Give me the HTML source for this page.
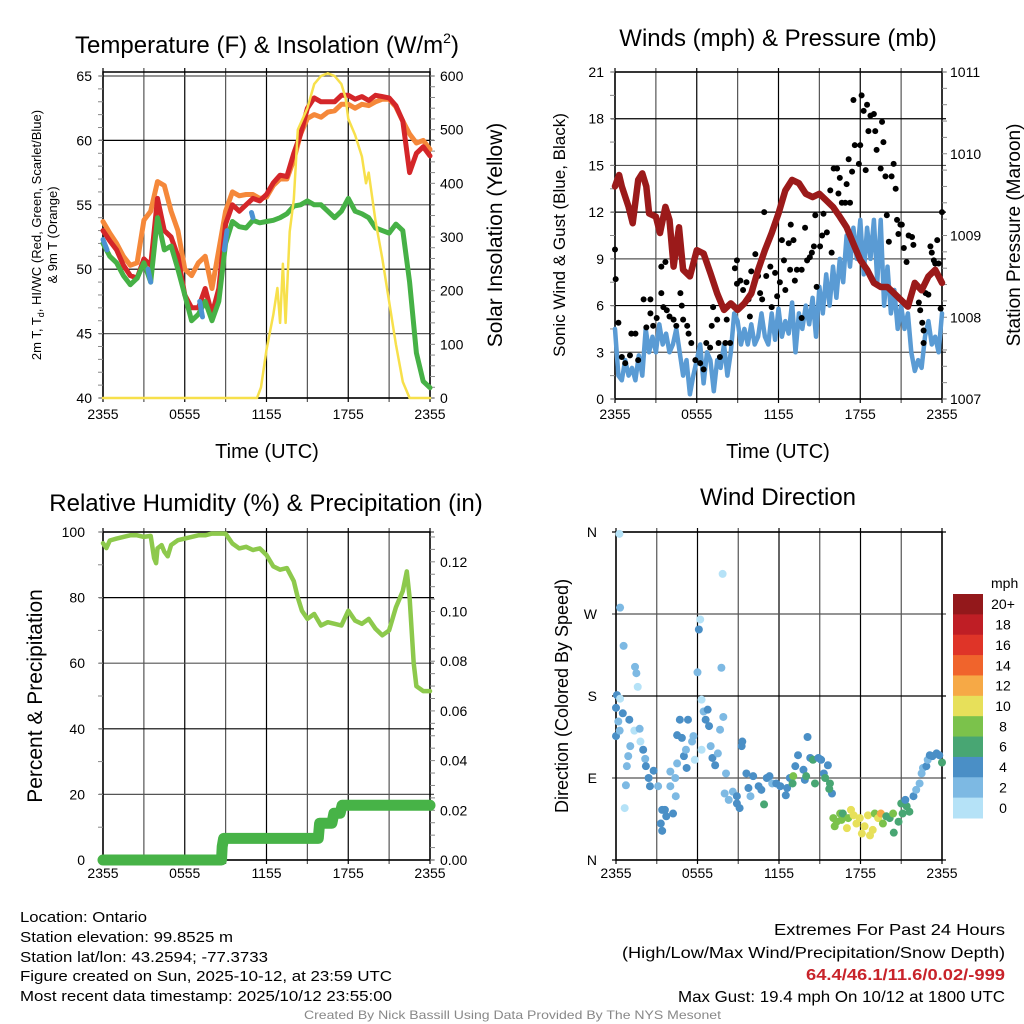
<!DOCTYPE html>
<html><head><meta charset="utf-8"><style>
html,body{margin:0;padding:0;background:#fff;}
svg{display:block;font-family:"Liberation Sans",sans-serif;}
</style></head><body>
<svg id="fig" width="1024" height="1024" viewBox="0 0 1024 1024" xmlns="http://www.w3.org/2000/svg">
<rect x="0" y="0" width="1024" height="1024" fill="#fff"/>
<text x="267" y="53" font-size="24" text-anchor="middle">Temperature (F) &amp; Insolation (W/m<tspan font-size="14" dy="-10">2</tspan><tspan dy="10">)</tspan></text>
<text x="778" y="46" font-size="24" text-anchor="middle">Winds (mph) &amp; Pressure (mb)</text>
<text x="266" y="511" font-size="24" text-anchor="middle">Relative Humidity (%) &amp; Precipitation (in)</text>
<text x="778" y="505" font-size="24" text-anchor="middle">Wind Direction</text>
<text x="267" y="458" font-size="20" text-anchor="middle">Time (UTC)</text>
<text x="778" y="458" font-size="20" text-anchor="middle">Time (UTC)</text>
<text transform="translate(41,235) rotate(-90)" font-size="13" text-anchor="middle">2m T, T<tspan font-size="9" dy="3">d</tspan><tspan dy="-3">, HI/WC (Red, Green, Scarlet/Blue)</tspan></text>
<text transform="translate(57,235) rotate(-90)" font-size="13" text-anchor="middle">&amp; 9m T (Orange)</text>
<text transform="translate(502,235) rotate(-90)" font-size="21" text-anchor="middle">Solar Insolation (Yellow)</text>
<text transform="translate(565,235) rotate(-90)" font-size="17" text-anchor="middle">Sonic Wind &amp; Gust (Blue, Black)</text>
<text transform="translate(1020,235) rotate(-90)" font-size="19" text-anchor="middle">Station Pressure (Maroon)</text>
<text transform="translate(42,696) rotate(-90)" font-size="21" text-anchor="middle">Percent &amp; Precipitation</text>
<text transform="translate(568,696) rotate(-90)" font-size="18" text-anchor="middle">Direction (Colored By Speed)</text>
<g font-size="15" lengthAdjust="spacingAndGlyphs">
<text x="20" y="922" textLength="127" lengthAdjust="spacingAndGlyphs">Location: Ontario</text>
<text x="20" y="942" textLength="213" lengthAdjust="spacingAndGlyphs">Station elevation: 99.8525 m</text>
<text x="20" y="962" textLength="248" lengthAdjust="spacingAndGlyphs">Station lat/lon: 43.2594; -77.3733</text>
<text x="20" y="981" textLength="372" lengthAdjust="spacingAndGlyphs">Figure created on Sun, 2025-10-12, at 23:59 UTC</text>
<text x="20" y="1001" textLength="372" lengthAdjust="spacingAndGlyphs">Most recent data timestamp: 2025/10/12 23:55:00</text>
</g>
<g font-size="16">
<text x="774" y="935" textLength="231" lengthAdjust="spacingAndGlyphs">Extremes For Past 24 Hours</text>
<text x="622" y="958" textLength="383" lengthAdjust="spacingAndGlyphs">(High/Low/Max Wind/Precipitation/Snow Depth)</text>
<text x="806" y="980" fill="#c8232a" font-weight="bold" textLength="199" lengthAdjust="spacingAndGlyphs">64.4/46.1/11.6/0.02/-999</text>
<text x="678" y="1002" textLength="327" lengthAdjust="spacingAndGlyphs">Max Gust: 19.4 mph On 10/12 at 1800 UTC</text>
</g>
<text x="304" y="1019" font-size="12" fill="#888" textLength="417" lengthAdjust="spacingAndGlyphs">Created By Nick Bassill Using Data Provided By The NYS Mesonet</text>
</svg>
<script>
// ---------- data ----------
const timeTicks = ["2355","0555","1155","1755","2355"];
const tempTickLabels = [40,45,50,55,60,65];
const solarTickLabels = [0,100,200,300,400,500,600];
const windTickLabels = [0,3,6,9,12,15,18,21];
const pressTickLabels = [1007,1008,1009,1010,1011];
const rhTickLabels = [0,20,40,60,80,100];
const precipTickLabels = ["0.00","0.02","0.04","0.06","0.08","0.10","0.12"];
const dirTickLabels = ["N","E","S","W","N"];
const speedBins = ["0","2","4","6","8","10","12","14","16","18","20+"];
const speedColors = ["#b5e2f7","#7db9e3","#4a8fc6","#48a673","#7bc24b","#e7e05a","#f6a946","#f0642c","#df3428","#bf1e25","#93181b"];

const halfHours = [0,0.5,1,1.5,2,2.5,3,3.5,4,4.5,5,5.5,6,6.5,7,7.5,8,8.5,9,9.5,10,10.5,11,11.5,12,12.5,13,13.5,14,14.5,15,15.5,16,16.5,17,17.5,18,18.5,19,19.5,20,20.5,21,21.5,22,22.5,23,23.5,24];
const temp2m = [53,52.2,51.5,50.3,49.5,49.3,50.8,50.3,55.5,53,52.5,51,48,47,47,48.5,46.5,48.5,53.5,55,54.5,55,55.5,55.3,55.8,56.7,57.3,57.2,59,60.5,62.5,63.3,63,63,63,63.5,63.5,63.2,63.4,63.1,63.5,63.4,63.3,62.7,61.5,57.5,59,59.5,58.8];
const temp9m = [53.7,52.8,52,51,50.3,50.5,53.8,54.5,56.8,56.5,54.5,53,50,49.5,50.5,51,48.5,51.5,54.5,56,55.7,55.8,55.8,55.5,55.6,56.5,57,57,58.5,60.5,61.7,62,61.8,62.2,62.3,62.8,62.8,62.5,62.8,62.7,63,63.2,63.2,62.6,61.5,60.5,59.8,60,59.3];
const dewpoint = [52,51,50.5,49.5,48.8,49.3,50.5,49,54,51.5,51.8,50,48,46,46.5,47.5,46,47.5,52,53.7,53.3,53.2,53.8,53.6,53.7,53.8,54,54.3,54.9,55,55.3,55,55,54.5,54,54.5,55.5,54.5,54.3,54,53.2,53,52.8,53.5,53,49,43.5,41.3,40.8];
const hiwcHours = [0,0.3,3.3,3.5,7.1,7.3,8.9,9.1,10.9,11.0];
const hiwcValues = [52.3,51.5,50,49,47.5,46.3,51.5,53,54.4,54];
const solarHours = [0,11.3,11.6,12,12.5,12.8,13,13.2,13.4,13.7,14,14.3,15,15.5,16,16.5,17,17.5,17.8,18,18.5,19,19.3,19.5,20,20.5,21,21.5,22,22.5,24];
const solarValues = [0,0,20,90,155,205,140,250,140,310,370,500,540,585,600,605,600,585,560,520,490,450,400,420,330,260,180,100,30,0,0];

const windHours = [0,0.25,0.5,0.75,1,1.25,1.5,1.75,2,2.25,2.5,2.75,3,3.25,3.5,3.75,4,4.25,4.5,4.75,5,5.25,5.5,5.75,6,6.25,6.5,6.75,7,7.25,7.5,7.75,8,8.25,8.5,8.75,9,9.25,9.5,9.75,10,10.25,10.5,10.75,11,11.25,11.5,11.75,12,12.25,12.5,12.75,13,13.25,13.5,13.75,14,14.25,14.5,14.75,15,15.25,15.5,15.75,16,16.25,16.5,16.75,17,17.25,17.5,17.75,18,18.25,18.5,18.75,19,19.25,19.5,19.75,20,20.25,20.5,20.75,21,21.25,21.5,21.75,22,22.25,22.5,22.75,23,23.25,23.5,23.75,24];
const windSpeed = [4.5,1.5,1.2,2.5,1.5,2.0,1.2,2.8,1.5,4.5,3.0,4.0,3.0,4.8,3.5,4.2,3.0,3.5,4.5,3.0,1.5,2.5,0.3,1.5,2.5,3.5,1.0,3.0,2.5,0.5,2.5,2.0,3.5,1.5,3.0,5.5,5.0,3.5,4.5,3.5,4.8,3.5,4.0,5.5,4.0,3.5,5.5,3.8,5.8,4.0,5.0,4.2,6.2,3.0,5.5,4.5,6.0,4.8,6.5,4.0,7.2,5.5,8.0,6.0,8.5,6.5,9.0,7.5,10.5,8.5,11.0,9.0,11.5,8.0,11.0,9.0,11.5,7.5,11.5,6.0,8.5,5.5,7.0,4.5,6.0,4.5,5.5,3.0,1.8,2.5,2.0,4.0,5.0,3.5,4.0,3.0,5.5];
const gustHours = [0,0.05,0.25,0.5,0.75,1.1,1.2,1.5,1.7,2.1,2.3,2.6,2.6,2.8,3.06,3.4,3.7,3.4,3.55,3.8,4.0,4.3,4.5,4.8,4.9,5.0,5.3,5.4,5.6,5.9,6.25,6.5,6.7,6.98,7.1,7.2,7.5,7.6,7.7,8.1,8.2,8.45,8.8,8.95,8.95,9.2,9.4,9.65,9.8,9.9,10.0,10.3,10.5,10.65,10.8,10.95,11.1,11.4,11.5,11.75,11.9,12.1,12.25,12.4,12.5,12.75,12.85,12.9,13.1,13.2,13.35,13.7,13.7,13.95,14.1,14.3,14.45,14.6,14.7,14.8,15.05,15.2,15.3,15.55,15.8,15.9,16.05,16.3,16.4,16.5,16.65,16.9,17.0,17.15,17.25,17.4,17.5,17.6,17.9,18.0,18.1,18.25,18.4,18.5,18.6,18.75,19.0,19.1,19.2,19.5,19.6,19.7,19.85,19.95,20.1,20.3,20.45,20.6,20.7,20.8,20.95,21.05,21.2,21.4,21.55,21.8,21.9,22.05,22.3,22.4,22.55,22.65,22.65,22.8,23.0,23.15,23.25,23.4,23.5,23.65,23.75,23.9,24.0];
const gustSpeed = [9.6,7.7,4.9,2.7,2.3,2.8,4.2,4.2,2.5,6.4,4.6,5.5,6.4,4.7,5.2,8.5,8.8,6.8,5.9,5.7,5.3,5.1,4.7,6.8,6.0,5.1,4.7,4.2,3.6,2.5,2.3,1.9,3.6,3.3,4.7,5.9,5.1,3.6,2.7,3.6,5.1,3.6,8.4,8.9,7.4,7.6,7.0,7.5,6.4,5.3,8.2,9.3,7.9,6.8,6.4,12.0,7.9,8.5,5.9,8.1,6.6,7.5,10.2,8.9,7.0,10.0,8.3,11.2,10.2,7.6,8.3,5.2,8.3,11.0,8.9,9.1,9.4,9.8,11.8,7.2,9.8,10.5,11.9,10.7,13.4,9.4,14.8,14.8,13.2,14.2,12.6,12.6,13.8,15.4,12.6,14.6,19.2,16.3,15.1,16.3,19.5,18.5,14.7,18.9,17.2,18.2,18.3,17.2,16.0,14.8,17.8,16.5,14.3,11.8,10.1,14.3,15.1,13.5,11.5,10.6,11.2,11.2,9.7,8.8,10.5,10.4,9.9,7.4,6.2,5.7,4.9,4.4,3.6,6.8,6.7,9.8,9.4,8.9,8.7,10.2,8.7,5.8,12.0];
const pressHours = [0,0.3,0.5,1,1.3,1.7,2,2.3,2.5,3,3.3,3.7,4,4.3,4.7,5,5.5,6,6.5,7,7.5,8,8.5,9,9.5,10,10.5,11,11.5,12,12.5,13,13.5,14,14.5,15,15.5,16,16.5,17,17.5,18,18.5,19,19.5,20,20.5,21,21.5,22,22.5,23,23.5,24];
const pressure = [1009.6,1009.74,1009.6,1009.35,1009.15,1009.68,1009.76,1009.6,1009.27,1009.23,1009.03,1009.35,1009.19,1008.62,1009.1,1008.58,1008.5,1008.82,1008.78,1008.54,1008.29,1008.09,1008.17,1008.09,1008.17,1008.29,1008.58,1008.82,1009.03,1009.27,1009.55,1009.68,1009.64,1009.51,1009.47,1009.51,1009.43,1009.35,1009.23,1009.1,1008.9,1008.7,1008.58,1008.42,1008.37,1008.37,1008.29,1008.21,1008.13,1008.42,1008.33,1008.5,1008.58,1008.42];

const rhHours = [0,0.25,0.5,1,1.5,2,2.5,3,3.5,3.75,3.9,4,4.3,4.5,4.75,5,5.5,6,6.5,7,7.5,8,8.5,9,9.5,10,10.5,11,11.5,12,12.5,13,13.5,14,14.3,14.6,15,15.5,16,16.5,17,17.5,18,18.5,19,19.5,20,20.5,21,21.5,22,22.3,22.5,22.8,23,23.5,24];
const rhValues = [96.6,95.1,97.4,98,98.5,99,99,98.5,98.8,92,90.5,95,96,94,92.6,96,97.5,98,98.5,99,99,99.5,99.5,99.5,96.5,95,95.5,94.5,95,93,89.5,88.5,89,85,80,76,73.5,75,71.5,72.5,72,71.5,76,73,72,73.5,70.5,68.5,70,77,82,88,80,60,53,51.5,51.5];
const precipHours = [0,8.7,8.75,8.85,15.8,15.9,16.8,16.95,17.4,17.55,24];
const precipValues = [0,0,0.0054,0.0087,0.0087,0.0148,0.0148,0.0188,0.0188,0.022,0.022];

const dirHours = [0.25,0.3,0.56,1.4,1.5,1.6,0.07,0,0,0.17,0.3,0.5,0.27,0.98,1.35,1.74,1.8,1.05,0.9,0.8,0.73,0.64,2.0,2.15,2.2,2.77,2.4,2.5,3.1,3.4,3.6,3.3,3.4,3.7,4.2,4.0,4.0,4.36,4.4,4.5,4.5,4.7,4.85,5.0,5.2,5.15,5.3,5.6,5.7,5.8,6.0,6.1,6.2,6.3,6.45,6.6,6.75,6.85,6.3,6.97,7.1,7.3,7.5,7.85,7.76,7.9,7.66,8.1,8.0,8.3,8.6,8.9,8.9,9.1,9.25,9.3,9.6,9.75,9.9,10.1,10.5,10.7,10.9,11.1,11.3,11.5,11.8,12.1,12.5,12.6,12.8,13.05,13.0,13.2,13.4,13.8,13.9,14.0,14.1,14.3,14.5,14.65,14.9,15.1,15.3,15.4,15.6,15.75,15.9,15.7,16.0,16.1,16.25,16.5,16.6,16.7,17.0,17.1,17.3,17.5,17.7,17.95,18.1,18.3,18.55,18.7,18.9,19.05,19.3,19.5,19.65,19.9,20.15,20.45,20.4,20.8,21.0,21.1,21.4,21.6,21.3,21.9,22.1,22.35,22.5,22.6,22.85,22.95,23.1,23.3,23.6,23.8,24.0];
const dirDegrees = [358,277,235,212,205,190,181,167,136,152,177,161,142,154,142,144,130,125,114,103,82,57,121,111,103,98,90,81,81,55,55,40,32,48,51,81,97,90,70,106,137,154,134,114,101,121,154,130,136,110,206,253,264,176,163,154,165,147,121,125,112,104,117,314,211,157,143,95,73,66,75,70,62,57,125,130,95,79,70,92,81,77,61,90,92,84,84,81,71,79,90,92,84,103,115,99,88,92,135,112,110,84,112,110,95,90,104,84,73,78,46,37,42,51,44,51,35,46,55,49,40,46,29,37,49,27,33,51,46,51,40,48,46,30,51,42,62,51,59,53,66,70,77,84,95,101,103,110,115,114,117,115,107];
const dirSpeeds = [0,1,1,2,2,0,4,4,4,2,0,3,1,3,0,1,0,2,1,2,2,0,3,2,4,3,4,4,2,4,4,4,4,4,3,2,2,2,2,2,4,4,4,4,4,2,3,2,2,0,1,4,0,0,1,3,3,3,0,2,4,4,2,0,1,1,2,2,2,2,2,4,4,4,4,4,4,4,2,4,4,4,6,4,4,2,4,4,4,4,4,8,6,4,4,4,4,6,4,4,6,6,4,4,4,6,4,6,4,6,8,8,8,8,8,6,10,8,10,10,10,10,10,10,10,10,10,8,10,12,8,6,6,6,8,6,6,6,6,6,4,4,2,2,2,2,4,2,4,4,4,4,6];

// ---------- helpers ----------
const NS = "http://www.w3.org/2000/svg";
const svg = document.getElementById('fig');
function mk(tag, attrs, parent){
  const e = document.createElementNS(NS, tag);
  for (const k in attrs) e.setAttribute(k, attrs[k]);
  (parent || svg).appendChild(e);
  return e;
}
function lin(d0,d1,r0,r1){ return v => r0 + (v-d0)*(r1-r0)/(d1-d0); }

function panel(name){
  const g = mk('g', {});
  
  
  return g;
}
function grid(g, x0,x1,y0,y1, yPositions){
  const xs = lin(0,24,x0,x1);
  for (let h=0; h<=24; h+=3){
    const l = mk('line',{x1:xs(h),x2:xs(h),y1:y0-4,y2:y1+4,stroke:(h%6===0)?'#000':'#555','stroke-width':1.2},g);
    
    
  }
  yPositions.forEach((y,i)=>{
    const l = mk('line',{x1:x0-4,x2:x1+4,y1:y,y2:y,stroke:(i%2)?'#555':'#000','stroke-width':1.2},g);
    
    
  });
  const b = mk('rect',{x:x0,y:y0,width:x1-x0,height:y1-y0,fill:'none',stroke:'#000','stroke-width':1.5},g);
  
  
}
function xLabels(g,x0,x1,y){
  const xs = lin(0,24,x0,x1);
  timeTicks.forEach((t,i)=>{
    const tx = mk('text',{x:xs(i*6),y:y,'font-size':14,'text-anchor':'middle'},g);
    tx.textContent = t;
    
    
  });
}
function yLabel(g,x,y,txt,anchor){
  const tx = mk('text',{x:x,y:y+5,'font-size':14,'text-anchor':anchor},g);
  tx.textContent = txt;
  
  
}
function minorTicks(g,x,yA,yB,n,dir){
  for(let i=0;i<=n;i++){
    const y = yA+(yB-yA)*i/n;
    const l = mk('line',{x1:x,x2:x+dir*5,y1:y,y2:y,stroke:'#888','stroke-width':1},g);
    
    
  }
}
function path(g,xsArr,ysArr,xs,ys,stroke,w,name){
  let d='';
  xsArr.forEach((h,i)=>{ d += (i?'L':'M') + xs(h).toFixed(1)+','+ys(ysArr[i]).toFixed(1); });
  const p = mk('path',{d:d,fill:'none',stroke:stroke,'stroke-width':w,'stroke-linejoin':'round','stroke-linecap':'round'},g);
  
  
  return p;
}

// ---------- Panel 1: temperature ----------
{
  const x0=103,x1=430,y0=72,y1=398;
  const g = panel('temperature-panel');
  const xs = lin(0,24,x0,x1), ys = lin(40,65,398,76), ysR = lin(0,600,398,76);
  grid(g,x0,x1,y0,y1, tempTickLabels.map(ys));
  minorTicks(g,x0,ys(40),ys(65),25,-1);
  minorTicks(g,x1,ysR(0),ysR(600),30,1);
  tempTickLabels.forEach(v=>yLabel(g,92,ys(v),String(v),'end'));
  solarTickLabels.forEach(v=>yLabel(g,440,ysR(v),String(v),'start'));
  xLabels(g,x0,x1,419);
  path(g,halfHours,temp9m,xs,ys,'#f5883a',5,'temp-9m-line');
  path(g,halfHours,temp2m,xs,ys,'#d42629',5,'temp-2m-line');
  path(g,halfHours,dewpoint,xs,ys,'#46b146',5,'dewpoint-line');
  for(let i=0;i<hiwcHours.length;i+=2){
    path(g,hiwcHours.slice(i,i+2),hiwcValues.slice(i,i+2),xs,ys,'#4b92d2',5,'heat-index-segment');
  }
  path(g,solarHours,solarValues,xs,ysR,'#f7e04b',2.5,'solar-insolation-line');
}

// ---------- Panel 2: winds ----------
{
  const x0=615,x1=942,y0=72,y1=399;
  const g = panel('winds-panel');
  const xs = lin(0,24,x0,x1), ys = lin(0,21,399,72), ysP = lin(1007,1011,399,72);
  grid(g,x0,x1,y0,y1, windTickLabels.map(ys));
  minorTicks(g,x0,ys(0),ys(21),14,-1);
  minorTicks(g,x1,ysP(1007),ysP(1011),20,1);
  windTickLabels.forEach(v=>yLabel(g,604,ys(v),String(v),'end'));
  pressTickLabels.forEach(v=>yLabel(g,950,ysP(v),String(v),'start'));
  xLabels(g,x0,x1,419);
  path(g,windHours,windSpeed,xs,ys,'#5a9bd4',4.5,'sonic-wind-line');
  gustHours.forEach((h,i)=>{
    const c = mk('circle',{cx:xs(h),cy:ys(gustSpeed[i]),r:3,fill:'#000'},g);
    
    
  });
  path(g,pressHours,pressure,xs,ysP,'#9b1a1a',6.5,'pressure-line');
}

// ---------- Panel 3: humidity ----------
{
  const x0=103,x1=430,y0=532,y1=860;
  const g = panel('humidity-panel');
  const xs = lin(0,24,x0,x1), ys = lin(0,100,860,532), ysP = lin(0,0.132,860,532);
  grid(g,x0,x1,y0,y1, rhTickLabels.map(ys));
  minorTicks(g,x0,ys(0),ys(100),10,-1);
  minorTicks(g,x1,ysP(0),ysP(0.13),26,1);
  rhTickLabels.forEach(v=>yLabel(g,85,ys(v),String(v),'end'));
  precipTickLabels.forEach(v=>yLabel(g,440,ysP(parseFloat(v)),v,'start'));
  xLabels(g,x0,x1,878);
  path(g,rhHours,rhValues,xs,ys,'#8dc94c',4.5,'relative-humidity-line');
  path(g,precipHours,precipValues,xs,ysP,'#47b347',11,'precipitation-line');
}

// ---------- Panel 4: wind direction ----------
{
  const x0=616,x1=942,y0=532,y1=860;
  const g = panel('wind-direction-panel');
  const xs = lin(0,24,x0,x1), ys = lin(0,360,860,532);
  grid(g,x0,x1,y0,y1, [0,90,180,270,360].map(ys));
  dirTickLabels.forEach((v,i)=>yLabel(g,597,ys(i*90),v,'end'));
  xLabels(g,x0,x1,878);
  dirHours.forEach((h,i)=>{
    const idx = Math.min(10, Math.round(dirSpeeds[i]/2));
    const c = mk('circle',{cx:xs(h),cy:ys(dirDegrees[i]),r:4,fill:speedColors[idx]},g);
    
    
  });
  const lg = mk('g',{});
  
  
  const mph = mk('text',{x:991,y:588,'font-size':14},lg);
  mph.textContent = 'mph';
  
  
  const bh = (818-594)/speedBins.length;
  speedBins.forEach((lab,i)=>{
    const k = speedBins.length-1-i;
    const r = mk('rect',{x:953,y:594+i*bh,width:30,height:bh+0.5,fill:speedColors[k]},lg);
    
    
    const t = mk('text',{x:1003,y:594+i*bh+bh/2+5,'font-size':14,'text-anchor':'middle'},lg);
    t.textContent = speedBins[k];
    
    
  });
}
</script>
</body></html>
